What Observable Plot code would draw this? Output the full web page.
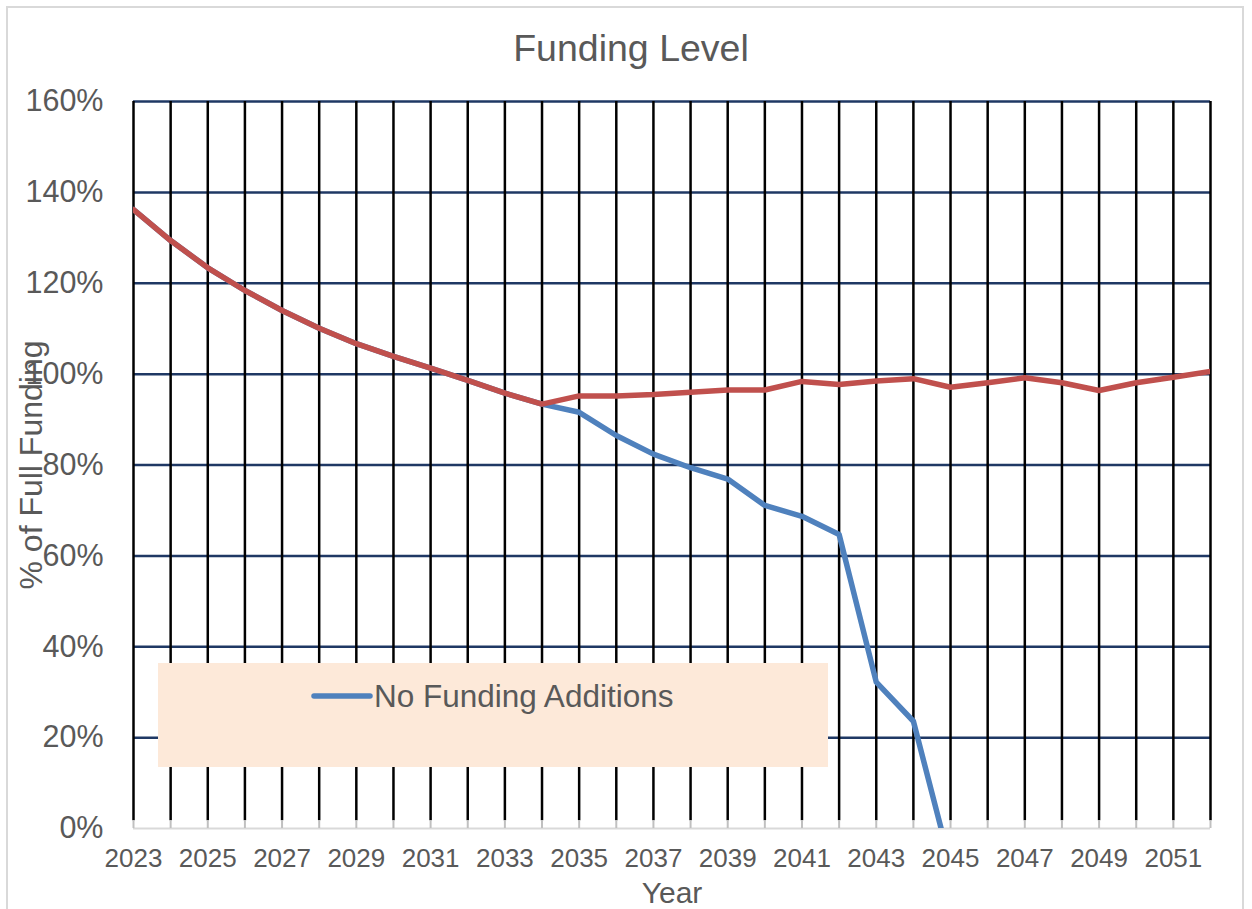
<!DOCTYPE html>
<html>
<head>
<meta charset="utf-8">
<script src="https://cdn.jsdelivr.net/npm/d3@7"></script>
<script src="https://cdn.jsdelivr.net/npm/@observablehq/plot@0.6"></script>
<style>
  html, body { margin: 0; padding: 0; background: #ffffff; }
  #wrap { position: relative; width: 1252px; height: 909px; overflow: hidden; background: #fff;
          font-family: "Liberation Sans", Arial, sans-serif; }
  #border { position: absolute; left: 6px; top: 6px; width: 1238px; height: 920px;
            border: 2px solid #d9d9d9; box-sizing: border-box; pointer-events: none; }
  #chart { position: absolute; left: 0; top: 0; }
  #title { position: absolute; top: 25px; left: 0; width: 1262px; text-align: center;
           font-size: 37.5px; color: #595959; line-height: 46px; }
  #legend { position: absolute; left: 158px; top: 663px; width: 670px; height: 104px;
            background: #fde9d9; }
  #legend .item { position: absolute; left: 153px; top: 14px; display: flex; align-items: center;
                  font-size: 31.5px; color: #595959; line-height: 38px; }
  #legend svg { display: block; margin-right: 1px; }
</style>
</head>
<body>
<div id="wrap">
  <div id="chart"></div>
  <div id="title">Funding Level</div>
  <div id="legend"></div>
  <div id="border"></div>
</div>
<script>
// ---- data ----
const years = d3.range(2023, 2053);
const noFundingAdditions = [136.2, 129.4, 123.4, 118.4, 114.0, 110.1, 106.7, 103.9, 101.3, 98.6, 95.8, 93.4,
  91.6, 86.5, 82.4, 79.4, 76.9, 71.1, 68.7, 64.7, 32.2, 23.6, -8.0];
const recommendedFunding = [136.2, 129.4, 123.4, 118.4, 114.0, 110.1, 106.7, 103.9, 101.3, 98.6, 95.8, 93.4,
  95.2, 95.2, 95.5, 96.0, 96.5, 96.5, 98.4, 97.7, 98.5, 99.0, 97.1, 98.1, 99.2, 98.1, 96.4, 98.1, 99.3, 100.6];
const xTickYears = d3.range(2023, 2052, 2);
const yTicks = [0, 20, 40, 60, 80, 100, 120, 140, 160];
const legendLabel = "No Funding Additions";
const seriesColors = {noFunding: "#4f81bd", recommended: "#c0504d"};

const blueData = noFundingAdditions.map((v, i) => ({year: years[i], value: v}));
const redData = recommendedFunding.map((v, i) => ({year: years[i], value: v}));

const textColor = "#595959";

const chart = Plot.plot({
  width: 1252,
  height: 909,
  marginLeft: 133,
  marginRight: 42,
  marginTop: 101,
  marginBottom: 81,
  style: {fontFamily: '"Liberation Sans", Arial, sans-serif', background: "transparent", overflow: "visible"},
  x: {domain: [2023, 2052]},
  y: {domain: [0, 160]},
  marks: [
    // horizontal gridlines
    Plot.ruleY(yTicks.filter(d => d > 0), {stroke: "#1f3864", strokeWidth: 2.5}),
    // vertical gridlines
    Plot.ruleX(years, {y1: 1.7, y2: 160, stroke: "#000000", strokeWidth: 2.5}),
    // bottom axis line and small ticks
    Plot.ruleY([0], {stroke: "#d9d9d9", strokeWidth: 2}),
    Plot.ruleX(years, {y1: 0, y2: 1.7, stroke: "#c0c0c0", strokeWidth: 2}),
    // series
    Plot.line(blueData, {x: "year", y: "value", stroke: seriesColors.noFunding, strokeWidth: 5.5,
      strokeLinejoin: "round", strokeLinecap: "round", clip: true}),
    Plot.line(redData, {x: "year", y: "value", stroke: seriesColors.recommended, strokeWidth: 5.5,
      strokeLinejoin: "round", strokeLinecap: "round", clip: true}),
    // axes
    Plot.axisY(yTicks, {tickSize: 0, tickPadding: 30, fontSize: 30.5, fill: textColor,
      tickFormat: d => d + "%", label: null}),
    Plot.axisX(xTickYears, {tickSize: 0, tickPadding: 20, fontSize: 26, fill: textColor,
      tickFormat: d3.format("d"), label: null}),
    // axis titles
    Plot.text(["Year"], {frameAnchor: "bottom", dy: 65, fontSize: 30, fill: textColor, lineAnchor: "middle"}),
    Plot.text(["% of Full Funding"], {frameAnchor: "left", dx: -102, rotate: -90, fontSize: 32,
      fill: textColor, lineAnchor: "middle", textAnchor: "middle"})
  ]
});
document.getElementById("chart").appendChild(chart);

// legend
const legend = document.getElementById("legend");
const item = document.createElement("div");
item.className = "item";
item.innerHTML = `<svg width="62" height="12"><line x1="3" y1="6" x2="59" y2="6" stroke="${seriesColors.noFunding}" stroke-width="5.5" stroke-linecap="round"/></svg><span></span>`;
item.querySelector("span").textContent = legendLabel;
legend.appendChild(item);
</script>
</body>
</html>
